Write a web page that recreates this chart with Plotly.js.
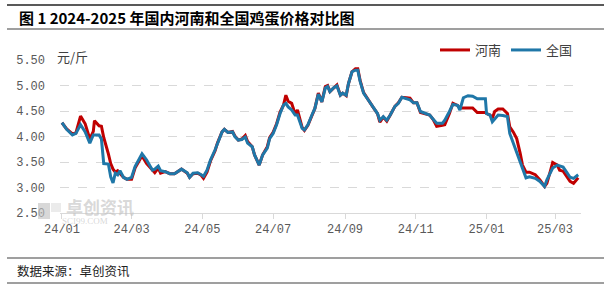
<!DOCTYPE html>
<html>
<head>
<meta charset="utf-8">
<script src="https://cdn.plot.ly/plotly-3.0.1.min.js"></script>
<style>
html,body{margin:0;padding:0;background:#fff;}
#chart{width:604px;height:290px;}
</style>
</head>
<body>
<div id="chart"></div>
<script>
// ---- data ----
const dates = [
'2024-01-01','2024-01-05','2024-01-10','2024-01-13','2024-01-17','2024-01-21','2024-01-25','2024-01-28','2024-01-29',
'2024-02-02','2024-02-04','2024-02-06','2024-02-10','2024-02-12','2024-02-14','2024-02-16','2024-02-18','2024-02-20',
'2024-02-23','2024-02-26','2024-03-01','2024-03-04','2024-03-10','2024-03-14','2024-03-19','2024-03-21','2024-03-24',
'2024-03-26','2024-03-30','2024-04-03','2024-04-07','2024-04-13','2024-04-18','2024-04-20','2024-04-23','2024-04-27',
'2024-04-30','2024-05-02','2024-05-05','2024-05-08','2024-05-12','2024-05-14','2024-05-18','2024-05-20','2024-05-23',
'2024-05-27','2024-05-29','2024-06-01','2024-06-04','2024-06-07','2024-06-09','2024-06-13','2024-06-15','2024-06-19',
'2024-06-22','2024-06-26','2024-06-28','2024-07-01','2024-07-04','2024-07-07','2024-07-10','2024-07-12','2024-07-14',
'2024-07-17','2024-07-20','2024-07-22','2024-07-26','2024-07-28','2024-07-31','2024-08-04','2024-08-06','2024-08-09',
'2024-08-12','2024-08-15','2024-08-17','2024-08-19','2024-08-22','2024-08-25','2024-08-28','2024-08-30','2024-09-02',
'2024-09-04','2024-09-07','2024-09-10','2024-09-12','2024-09-14','2024-09-17','2024-09-20','2024-09-23','2024-09-25',
'2024-09-29','2024-10-01','2024-10-04','2024-10-07','2024-10-10','2024-10-14','2024-10-17','2024-10-20','2024-10-24',
'2024-10-27','2024-10-30','2024-11-02','2024-11-05','2024-11-09','2024-11-13','2024-11-16','2024-11-19','2024-11-24',
'2024-11-26','2024-11-30','2024-12-03','2024-12-07','2024-12-09','2024-12-12','2024-12-16','2024-12-20','2024-12-24',
'2024-12-28','2024-12-31','2025-01-01','2025-01-04','2025-01-06','2025-01-08','2025-01-11','2025-01-15','2025-01-19',
'2025-01-21','2025-01-24','2025-01-27','2025-01-30','2025-02-01','2025-02-04','2025-02-07','2025-02-12','2025-02-16',
'2025-02-20','2025-02-22','2025-02-25','2025-02-27','2025-03-03','2025-03-05','2025-03-08','2025-03-11','2025-03-14',
'2025-03-17','2025-03-21'
];
const henan = [
4.27,4.15,4.05,4.07,4.40,4.25,3.95,4.10,4.31,
4.21,4.20,3.98,3.66,3.47,3.36,3.30,3.33,3.28,
3.20,3.16,3.16,3.38,3.62,3.47,3.34,3.29,3.38,
3.28,3.31,3.27,3.27,3.36,3.28,3.20,3.27,3.28,
3.24,3.18,3.30,3.52,3.72,3.87,4.09,4.14,4.08,
4.10,4.01,3.93,3.95,4.02,3.90,3.80,3.64,3.44,
3.64,3.80,3.98,4.08,4.25,4.48,4.62,4.81,4.69,
4.65,4.44,4.52,4.18,4.12,4.22,4.45,4.55,4.85,
4.68,4.98,5.00,4.88,4.95,5.01,4.81,4.85,4.80,
5.04,5.27,5.33,5.33,5.10,4.86,4.75,4.66,4.58,
4.45,4.28,4.38,4.30,4.42,4.59,4.66,4.77,4.76,
4.75,4.66,4.66,4.47,4.45,4.42,4.33,4.20,4.22,
4.23,4.45,4.65,4.61,4.56,4.56,4.56,4.56,4.47,
4.47,4.47,4.45,4.42,4.36,4.49,4.54,4.54,4.45,
4.19,4.09,3.96,3.67,3.44,3.30,3.30,3.25,3.15,
3.02,3.08,3.32,3.49,3.44,3.34,3.32,3.23,3.12,
3.08,3.19
];
const national = [
4.27,4.14,4.03,4.06,4.23,4.09,3.87,4.03,4.03,
4.03,3.95,3.47,3.46,3.21,3.09,3.28,3.25,3.33,
3.20,3.16,3.20,3.41,3.66,3.54,3.34,3.36,3.42,
3.33,3.31,3.27,3.27,3.36,3.29,3.20,3.28,3.29,
3.25,3.22,3.34,3.54,3.74,3.87,4.09,4.14,4.08,
4.09,4.00,3.93,3.94,3.99,3.87,3.80,3.64,3.44,
3.64,3.77,3.96,4.06,4.23,4.45,4.62,4.65,4.58,
4.52,4.42,4.42,4.16,4.13,4.23,4.45,4.55,4.83,
4.68,4.95,4.98,4.88,4.95,4.99,4.81,4.85,4.81,
5.04,5.27,5.30,5.30,5.08,4.85,4.75,4.65,4.59,
4.45,4.32,4.39,4.32,4.42,4.59,4.65,4.77,4.75,
4.72,4.66,4.66,4.49,4.45,4.42,4.34,4.26,4.26,
4.32,4.49,4.63,4.61,4.52,4.76,4.80,4.79,4.74,
4.74,4.74,4.45,4.42,4.29,4.35,4.42,4.41,4.39,
4.06,3.87,3.67,3.51,3.34,3.19,3.21,3.18,3.12,
3.02,3.15,3.28,3.38,3.44,3.42,3.40,3.30,3.20,
3.18,3.25
];
const seriesNames = ['河南','全国'];
const yTicks = [2.5,3.0,3.5,4.0,4.5,5.0,5.5];

// ---- layout helpers (pixel -> paper) ----
const W=604,H=290,ML=60,MR=23,MT=60,MB=77;
const PW=W-ML-MR, PH=H-MT-MB;
const px=x=>(x-ML)/PW, py=y=>(H-MB-y)/PH;

const traces = [
 {x:dates,y:henan,name:seriesNames[0],type:'scatter',mode:'lines',
  line:{color:'#C00000',width:3}},
 {x:dates,y:national,name:seriesNames[1],type:'scatter',mode:'lines',
  line:{color:'#1F77A8',width:3}}
];

const wm='rgba(195,195,195,0.65)';
const layout = {
 width:W,height:H,
 margin:{l:ML,r:MR,t:MT,b:MB,pad:0},
 paper_bgcolor:'#fff',plot_bgcolor:'#fff',
 font:{family:'"Noto Sans CJK SC", sans-serif',color:'#404040',size:12},
 showlegend:true,
 legend:{orientation:'h',x:px(578),xanchor:'right',y:py(50),yanchor:'middle',
   font:{size:13,color:'#404040',family:'"Noto Sans CJK SC", sans-serif'},
   bgcolor:'rgba(0,0,0,0)',itemwidth:30,tracegroupgap:0},
 xaxis:{type:'date',range:['2023-12-30 07:00','2025-03-23 10:00'],
   tick0:'2024-01-01',dtick:'M2',tickformat:'%y/%m',
   showgrid:false,zeroline:false,showline:true,linecolor:'#d9d9d9',linewidth:1,
   ticks:'outside',ticklen:5,tickcolor:'#d9d9d9',
   tickfont:{family:'"Liberation Mono", monospace',size:12,color:'#595959'}},
 yaxis:{range:[2.5,5.5],tickvals:yTicks,tickformat:'.2f',
   showgrid:true,gridcolor:'#d9d9d9',griddash:'dash',gridwidth:1,
   zeroline:false,showline:false,ticks:'',ticklabelstandoff:14,
   tickfont:{family:'"Liberation Mono", monospace',size:12,color:'#595959'}},
 shapes:[
  {type:'line',xref:'paper',yref:'paper',x0:px(7),x1:px(604),y0:py(5),y1:py(5),line:{color:'#595959',width:2}},
  {type:'line',xref:'paper',yref:'paper',x0:px(7),x1:px(604),y0:py(29),y1:py(29),line:{color:'#7f7f7f',width:1.5}},
  {type:'line',xref:'paper',yref:'paper',x0:px(7),x1:px(604),y0:py(258),y1:py(258),line:{color:'#7f7f7f',width:1.5}},
  {type:'line',xref:'paper',yref:'paper',x0:px(7),x1:px(604),y0:py(283),y1:py(283),line:{color:'#7f7f7f',width:1.5}},
  {type:'rect',xref:'paper',yref:'paper',x0:px(38),x1:px(50),y0:py(219),y1:py(203),line:{width:0},fillcolor:wm},
  {type:'rect',xref:'paper',yref:'paper',x0:px(51),x1:px(61),y0:py(212),y1:py(203),line:{width:0},fillcolor:'rgba(215,215,215,0.5)'}
 ],
 annotations:[
  {text:'<b>图 1 2024-2025 年国内河南和全国鸡蛋价格对比图</b>',xref:'paper',yref:'paper',
   x:px(17),y:py(17),xanchor:'left',yanchor:'middle',showarrow:false,
   font:{size:15,color:'#000',family:'"Noto Sans CJK SC", sans-serif'}},
  {text:'数据来源：卓创资讯',xref:'paper',yref:'paper',
   x:px(15),y:py(270),xanchor:'left',yanchor:'middle',showarrow:false,
   font:{size:12.5,color:'#222',family:'"Noto Sans CJK SC", sans-serif'}},
  {text:'元/斤',xref:'paper',yref:'paper',x:px(55),y:py(56),xanchor:'left',yanchor:'middle',showarrow:false,
   font:{size:13,color:'#404040',family:'"Noto Sans CJK SC", sans-serif'}},
  {text:'<b>卓创资讯</b>',xref:'paper',yref:'paper',x:px(64),y:py(206),xanchor:'left',yanchor:'middle',showarrow:false,
   font:{size:17,color:wm,family:'"Noto Sans CJK SC", sans-serif'}},
  {text:'SCI99.COM',xref:'paper',yref:'paper',x:px(60),y:py(221),xanchor:'left',yanchor:'middle',showarrow:false,
   font:{size:9,color:wm,family:'"Liberation Serif", serif'}}
 ]
};

Plotly.newPlot('chart',traces,layout,{displayModeBar:false,staticPlot:true});
</script>
</body>
</html>
